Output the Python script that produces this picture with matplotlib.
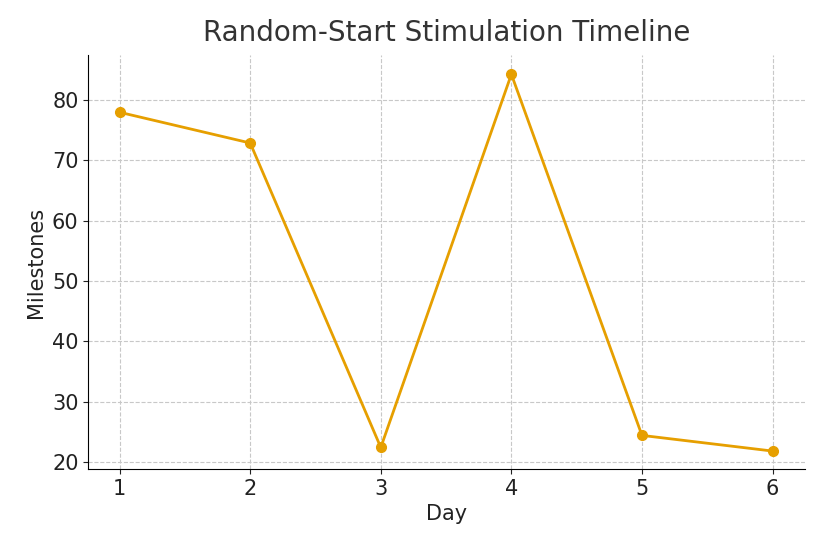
import matplotlib
matplotlib.use("Agg")
import matplotlib.pyplot as plt

days = [1, 2, 3, 4, 5, 6]
milestones = [78.0, 72.9, 22.4, 84.3, 24.4, 21.8]

fig = plt.figure(figsize=(8.25, 5.5), dpi=100)
ax = fig.add_axes([0.107, 0.147, 0.869, 0.753])

ax.plot(days, milestones, color="#E69F00", linewidth=2, marker="o", markersize=7)

ax.set_xlim(0.76, 6.25)
ax.set_ylim(18.8, 87.5)
ax.set_xticks(days)
ax.set_yticks([20, 30, 40, 50, 60, 70, 80])
ax.grid(True, linestyle="--", color="#c8c8c8", linewidth=0.8)
ax.set_axisbelow(True)
for s in ["top", "right"]:
    ax.spines[s].set_visible(False)
ax.tick_params(labelsize=15, colors="#222222")

ax.set_title("Random-Start Stimulation Timeline", fontsize=20, color="#333333", pad=10)
ax.set_xlabel("Day", fontsize=15, color="#222222")
ax.set_ylabel("Milestones", fontsize=15, color="#222222")

fig.savefig("out.png", dpi=100)
